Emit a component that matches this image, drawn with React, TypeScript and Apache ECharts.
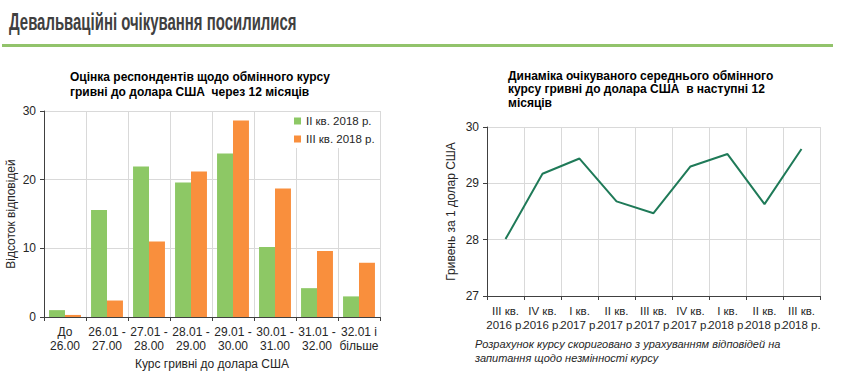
import React, { useEffect, useRef } from "react";
import * as echarts from "echarts";

const rangeCategories = [
  "До\n26.00",
  "26.01 -\n27.00",
  "27.01 -\n28.00",
  "28.01 -\n29.00",
  "29.01 -\n30.00",
  "30.01 -\n31.00",
  "31.01 -\n32.00",
  "32.01 і\nбільше",
];
const q2_2018 = [1.0, 15.6, 21.9, 19.6, 23.8, 10.2, 4.2, 3.0];
const q3_2018 = [0.3, 2.4, 11.0, 21.2, 28.6, 18.7, 9.6, 7.9];
const barSeriesNames = ["II кв. 2018 р.", "III кв. 2018 р."];

const quarterCategories = [
  "III кв.\n2016 р.",
  "IV кв.\n2016 р.",
  "I кв.\n2017 р.",
  "II кв.\n2017 р.",
  "III кв.\n2017 р.",
  "IV кв.\n2017 р.",
  "I кв.\n2018 р.",
  "II кв.\n2018 р.",
  "III кв.\n2018 р.",
];
const expectedRate = [28.01, 29.17, 29.44, 28.68, 28.47, 29.3, 29.52, 28.63, 29.61];

const FONT = "'Liberation Sans', Arial, sans-serif";

export default function App() {
  const ref = useRef<HTMLDivElement>(null);
  useEffect(() => {
    if (!ref.current) return;
    const chart = echarts.init(ref.current, null, { renderer: "svg" });
    const axisLine = { show: true, lineStyle: { color: "#404040", width: 1 } };
    const tick = { show: true, length: 4, lineStyle: { color: "#404040" } };
    const grid = { show: true, lineStyle: { color: "#d9d9d9", width: 1 } };
    const label = { color: "#262626", fontSize: 12, fontFamily: FONT };
    chart.setOption({
      animation: false,
      textStyle: { fontFamily: FONT },
      grid: [
        { left: 44, top: 111, width: 336, height: 206 },
        { left: 487, top: 127, width: 333, height: 169 },
      ],
      legend: {
        left: 290,
        top: 112,
        orient: "vertical",
        backgroundColor: "#ffffff",
        padding: [3, 4, 3, 4],
        itemGap: 6,
        itemWidth: 7,
        itemHeight: 7,
        icon: "rect",
        textStyle: { fontSize: 11.5, color: "#262626", fontFamily: FONT },
        data: barSeriesNames,
      },
      xAxis: [
        {
          type: "category",
          gridIndex: 0,
          data: rangeCategories,
          axisLine,
          axisTick: { ...tick, alignWithLabel: false },
          splitLine: grid,
          axisLabel: { ...label, interval: 0, lineHeight: 14, margin: 8 },
          name: "Курс гривні до долара США",
          nameLocation: "middle",
          nameGap: 40,
          nameTextStyle: { ...label, fontSize: 12 },
        },
        {
          type: "category",
          gridIndex: 1,
          data: quarterCategories,
          axisLine,
          axisTick: tick,
          splitLine: grid,
          axisLabel: { ...label, fontSize: 11.5, interval: 0, lineHeight: 14, margin: 8 },
        },
      ],
      yAxis: [
        {
          type: "value",
          gridIndex: 0,
          min: 0,
          max: 30,
          interval: 10,
          axisLine,
          axisTick: tick,
          splitLine: grid,
          axisLabel: { ...label, margin: 8 },
          name: "Відсоток відповідей",
          nameLocation: "middle",
          nameGap: 27,
          nameTextStyle: { ...label },
        },
        {
          type: "value",
          gridIndex: 1,
          min: 27,
          max: 30,
          interval: 1,
          axisLine,
          axisTick: tick,
          splitLine: grid,
          axisLabel: { ...label, margin: 8 },
          name: "Гривень за 1 долар США",
          nameLocation: "middle",
          nameGap: 30,
          nameTextStyle: { ...label },
        },
      ],
      series: [
        {
          name: barSeriesNames[0],
          type: "bar",
          xAxisIndex: 0,
          yAxisIndex: 0,
          data: q2_2018,
          barGap: "0%",
          barCategoryGap: "24%",
          itemStyle: { color: "#8dc865" },
        },
        {
          name: barSeriesNames[1],
          type: "bar",
          xAxisIndex: 0,
          yAxisIndex: 0,
          data: q3_2018,
          barGap: "0%",
          barCategoryGap: "24%",
          itemStyle: { color: "#f98f3d" },
        },
        {
          name: "expected",
          type: "line",
          xAxisIndex: 1,
          yAxisIndex: 1,
          data: expectedRate,
          symbol: "none",
          lineStyle: { color: "#1f7a58", width: 2 },
        },
      ],
      graphic: [
        {
          type: "text",
          x: 9,
          y: 10,
          scaleX: 0.65,
          style: {
            text: "Девальваційні очікування посилилися",
            font: "bold 23px 'Liberation Sans', Arial, sans-serif",
            fill: "#404040",
            textVerticalAlign: "top",
          },
        },
        {
          type: "rect",
          shape: { x: 2, y: 44, width: 831, height: 3 },
          style: { fill: "#92c36b" },
        },
        {
          type: "text",
          left: 70,
          top: 69,
          style: {
            text: "Оцінка респондентів щодо обмінного курсу\nгривні до долара США  через 12 місяців",
            font: `bold 12px ${FONT}`,
            lineHeight: 15,
            fill: "#000000",
          },
        },
        {
          type: "text",
          left: 508,
          top: 69,
          style: {
            text: "Динаміка очікуваного середнього обмінного\nкурсу гривні до долара США  в наступні 12\nмісяців",
            font: `bold 12px ${FONT}`,
            lineHeight: 13.5,
            fill: "#000000",
          },
        },
        {
          type: "text",
          left: 475,
          top: 337,
          style: {
            text: "Розрахунок курсу скориговано з урахуванням відповідей на\nзапитання щодо незмінності курсу",
            font: `italic 11px ${FONT}`,
            lineHeight: 14,
            fill: "#262626",
          },
        },
      ],
    });
    return () => chart.dispose();
  }, []);
  return (
    <div
      ref={ref}
      style={{ position: "fixed", left: 0, top: 0, width: 847, height: 381, background: "#fff" }}
    />
  );
}
